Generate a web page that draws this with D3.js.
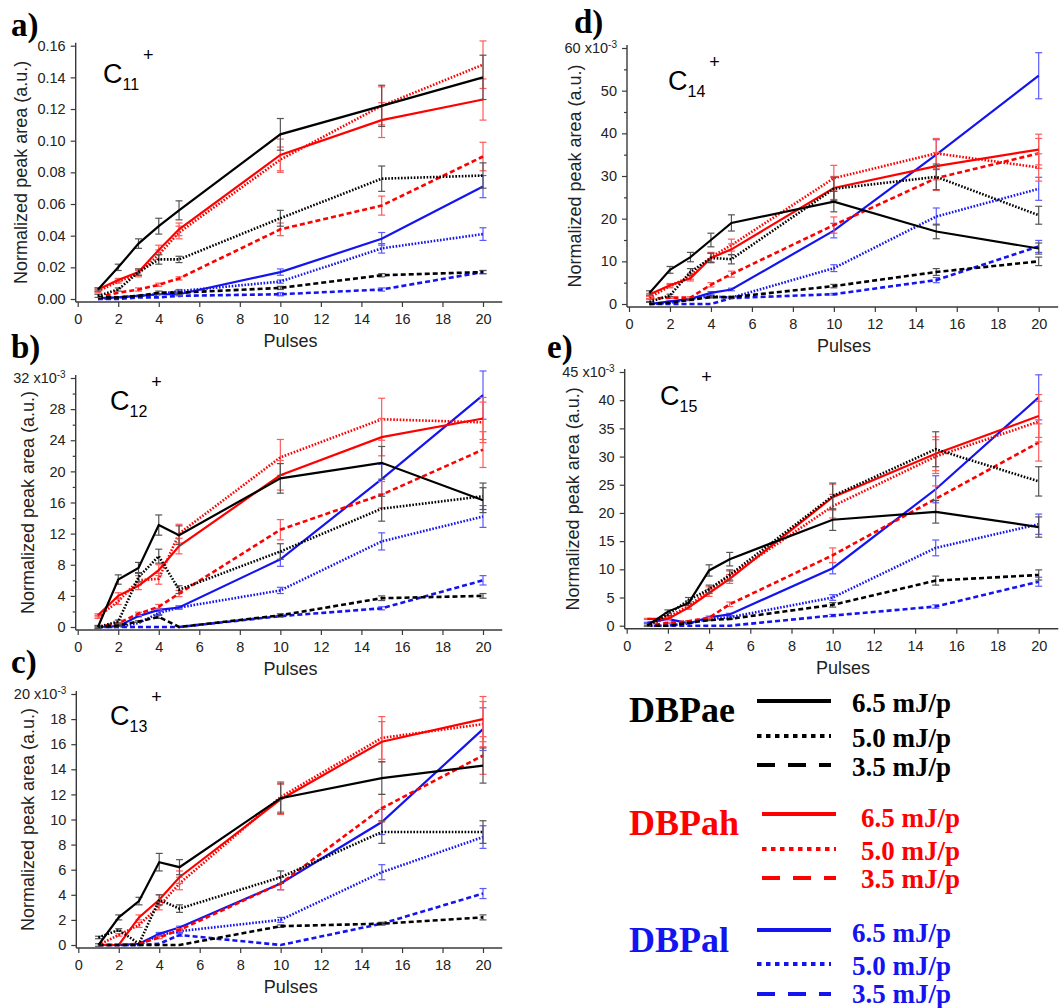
<!DOCTYPE html>
<html>
<head>
<meta charset="utf-8">
<script src="https://cdn.jsdelivr.net/npm/d3@7"></script>
<style>
body { margin: 0; background: #fff; }
</style>
</head>
<body>
<div id="chart"></div>
<script>
// x values shared by every series
var pulses = [1, 2, 3, 4, 5, 10, 15, 20];
var xTicks = [0, 2, 4, 6, 8, 10, 12, 14, 16, 18, 20];

// series order: DBPae 6.5/5.0/3.5, DBPah 6.5/5.0/3.5, DBPal 6.5/5.0/3.5
var seriesNames = ["ae65", "ae50", "ae35", "ah65", "ah50", "ah35", "al65", "al50", "al35"];

var c11Values = [
    [0.006, 0.020, 0.035, 0.046, 0.056, 0.104, 0.122, 0.140],
    [0.002, 0.006, 0.017, 0.025, 0.025, 0.051, 0.076, 0.078],
    [0.001, 0.001, 0.002, 0.004, 0.004, 0.007, 0.015, 0.017],
    [0.006, 0.012, 0.017, 0.031, 0.044, 0.091, 0.113, 0.126],
    [0.005, 0.011, 0.016, 0.028, 0.042, 0.088, 0.122, 0.148],
    [0.001, 0.004, 0.006, 0.009, 0.013, 0.044, 0.059, 0.090],
    [0.0005, 0.001, 0.002, 0.003, 0.003, 0.017, 0.038, 0.071],
    [0.000, 0.001, 0.002, 0.003, 0.005, 0.011, 0.032, 0.041],
    [0.000, 0.000, 0.001, 0.001, 0.002, 0.003, 0.006, 0.017]
];
var c11Errors = [
    [0.001, 0.002, 0.003, 0.005, 0.006, 0.010, 0.013, 0.014],
    [0.001, 0.001, 0.002, 0.003, 0.002, 0.005, 0.008, 0.008],
    [0, 0, 0, 0.001, 0.001, 0.001, 0.001, 0.001],
    [0.001, 0.001, 0.002, 0.003, 0.004, 0.010, 0.011, 0.013],
    [0.001, 0.001, 0.002, 0.003, 0.004, 0.008, 0.012, 0.015],
    [0, 0, 0.001, 0.001, 0.001, 0.004, 0.006, 0.009],
    [0, 0, 0, 0, 0.001, 0.002, 0.004, 0.007],
    [0, 0, 0, 0, 0.001, 0.001, 0.003, 0.004],
    [0, 0, 0, 0, 0, 0.001, 0.001, 0.001]
];

var c12Values = [
    [0, 6.1, 7.6, 13.1, 11.8, 19.1, 21.1, 16.3],
    [0, 0.7, 6.4, 9.1, 4.8, 9.7, 15.2, 16.8],
    [0, 0.2, 0.7, 1.3, 0, 1.5, 3.7, 4.0],
    [1.5, 4.0, 5.3, 7.3, 10.4, 19.5, 24.4, 26.8],
    [1.3, 3.3, 6.0, 6.2, 12.0, 21.8, 26.7, 26.3],
    [0, 0.5, 1.7, 2.6, 4.3, 12.5, 17.0, 22.8],
    [0, 0.1, 1.4, 2.2, 2.5, 8.7, 19.0, 29.8],
    [0, 0, 0.5, 1.8, 2.5, 4.7, 11.0, 14.2],
    [0, 0, 0, 0, 0, 1.4, 2.4, 6.0]
];
var c12Errors = [
    [0.2, 0.6, 0.7, 1.3, 1.2, 1.9, 2.1, 1.6],
    [0.1, 0.2, 0.6, 0.9, 0.5, 1.0, 1.6, 1.7],
    [0, 0.1, 0.1, 0.2, 0, 0.2, 0.3, 0.3],
    [0.2, 0.4, 0.5, 0.7, 1.0, 1.9, 2.4, 2.7],
    [0.2, 0.4, 0.6, 0.7, 1.2, 2.3, 2.7, 2.6],
    [0, 0.1, 0.2, 0.3, 0.4, 1.3, 1.7, 2.3],
    [0, 0, 0.1, 0.2, 0.2, 0.9, 1.9, 3.1],
    [0, 0, 0, 0.2, 0.2, 0.4, 1.1, 1.4],
    [0, 0, 0, 0, 0, 0.1, 0.2, 0.6]
];

var c13Values = [
    [0, 2.2, 3.5, 6.6, 6.2, 11.7, 13.3, 14.3],
    [0.6, 1.2, 0.1, 3.6, 2.9, 5.4, 9.0, 9.0],
    [0, 0, 0, 0, 0, 1.5, 1.7, 2.2],
    [0, 0, 2.2, 3.6, 5.4, 11.6, 16.2, 18.0],
    [0, 0.8, 1.6, 3.1, 4.9, 11.8, 16.5, 17.6],
    [0, 0, 0.1, 0.6, 1.2, 4.9, 10.9, 15.1],
    [0, 0, 0.1, 0.9, 1.4, 4.9, 9.8, 17.2],
    [0, 0, 0, 0.8, 1.1, 2.0, 5.8, 8.6],
    [0, 0, 0, 0.1, 0.8, 0, 1.7, 4.1]
];
var c13Errors = [
    [0.1, 0.2, 0.3, 0.7, 0.6, 1.2, 1.3, 1.4],
    [0.1, 0.1, 0, 0.4, 0.3, 0.5, 0.9, 0.9],
    [0, 0, 0, 0, 0, 0.1, 0.1, 0.2],
    [0, 0, 0.2, 0.4, 0.5, 1.2, 1.6, 1.8],
    [0, 0.1, 0.2, 0.3, 0.5, 1.2, 1.7, 1.8],
    [0, 0, 0, 0.1, 0.1, 0.5, 1.1, 1.5],
    [0, 0, 0, 0.1, 0.1, 0.5, 1.0, 1.7],
    [0, 0, 0, 0.1, 0.1, 0.2, 0.6, 0.9],
    [0, 0, 0, 0, 0.1, 0, 0.1, 0.4]
];

var c14Values = [
    [2.6, 8.0, 11.0, 15.0, 19.0, 24.0, 17.0, 13.0],
    [0.5, 2.0, 7.5, 10.8, 10.5, 27.0, 29.8, 20.8],
    [0, 0.3, 1.0, 1.6, 1.6, 4.2, 7.5, 10.0],
    [2.2, 4.4, 6.0, 10.8, 12.8, 27.2, 32.3, 36.2],
    [1.5, 4.2, 6.5, 11.0, 13.8, 29.5, 35.3, 32.0],
    [1.2, 1.5, 1.5, 4.5, 7.0, 18.5, 29.5, 35.3],
    [0, 0.6, 1.2, 2.6, 3.4, 17.2, 35.0, 53.5],
    [0, 0.3, 1.2, 1.8, 1.5, 8.4, 20.5, 27.0],
    [0, 0, 0, 0, 1.4, 2.3, 5.6, 13.5]
];
var c14Errors = [
    [0.5, 0.8, 1.1, 1.6, 1.9, 2.4, 1.7, 1.3],
    [0.1, 0.3, 0.8, 1.1, 1.1, 2.7, 3.0, 2.1],
    [0, 0, 0.2, 0.2, 0.2, 0.4, 0.8, 1.0],
    [0.3, 0.4, 0.6, 1.1, 1.3, 2.7, 3.2, 3.6],
    [0.3, 0.4, 0.7, 1.1, 1.4, 3.0, 3.5, 3.2],
    [0.1, 0.2, 0.2, 0.5, 0.7, 1.9, 2.9, 3.5],
    [0, 0.1, 0.1, 0.3, 0.3, 1.7, 3.5, 5.4],
    [0, 0, 0.1, 0.2, 0.2, 0.8, 2.0, 2.7],
    [0, 0, 0, 0, 0.1, 0.2, 0.6, 1.4]
];

var c15Values = [
    [0, 2.5, 4.0, 9.8, 11.8, 18.8, 20.2, 17.5],
    [0, 2.0, 4.5, 6.5, 9.0, 23.0, 31.3, 25.6],
    [0, 0, 0.5, 1.0, 1.2, 3.7, 8.0, 9.0],
    [1.2, 1.2, 3.2, 5.8, 8.3, 22.8, 30.5, 37.2],
    [0, 1.5, 3.5, 6.3, 8.8, 21.2, 30.0, 36.2],
    [0, 0.5, 0.8, 1.4, 3.8, 12.5, 22.5, 32.5],
    [0.5, 1.2, 0.4, 1.5, 2.0, 10.2, 24.2, 40.5],
    [0, 0, 0.4, 1.2, 1.5, 5.0, 13.8, 18.0],
    [0, 0, 0, 0, 0, 1.8, 3.4, 7.8]
];
var c15Errors = [
    [0.1, 0.3, 0.4, 1.0, 1.2, 1.9, 2.0, 1.8],
    [0, 0.2, 0.5, 0.7, 0.9, 2.3, 3.1, 2.6],
    [0, 0, 0.1, 0.1, 0.1, 0.4, 0.8, 0.9],
    [0.1, 0.1, 0.3, 0.6, 0.8, 2.3, 3.0, 3.8],
    [0, 0.2, 0.4, 0.6, 0.9, 2.1, 3.0, 3.6],
    [0, 0.1, 0.1, 0.1, 0.4, 1.3, 2.3, 3.3],
    [0.1, 0.1, 0, 0.2, 0.2, 1.0, 2.4, 4.0],
    [0, 0, 0, 0.1, 0.2, 0.5, 1.4, 1.8],
    [0, 0, 0, 0, 0, 0.2, 0.3, 0.8]
];

var legendGroups = ["DBPae", "DBPah", "DBPal"];
var legendEnergies = ["6.5 mJ/p", "5.0 mJ/p", "3.5 mJ/p"];

var colors = ["#000000", "#ff0000", "#1414f0"];
var errColors = ["#555555", "#ff5a5a", "#5a5aff"];
var dashes = [null, "1.6,1.6", "5,3"];

var sansFont = "'Liberation Sans', Arial, sans-serif";
var serifFont = "'Liberation Serif', 'Times New Roman', serif";

var panels = [
    {letter: "a)", ion: "11", values: c11Values, errors: c11Errors, ymax: 0.16, step: 0.02, minor: false, fmt: ".2f", exp: false,
     x0: 77.7, x20: 483, y0: 299, ytop: 45.7, titleX: 21, letterX: 11, letterY: 36, ionX: 103, ionY: 83},
    {letter: "b)", ion: "12", values: c12Values, errors: c12Errors, ymax: 32, step: 4, minor: true, fmt: "d", exp: true,
     x0: 77.7, x20: 483, y0: 627, ytop: 378, titleX: 28, letterX: 11, letterY: 358, ionX: 110, ionY: 410},
    {letter: "c)", ion: "13", values: c13Values, errors: c13Errors, ymax: 20, step: 2, minor: false, fmt: "d", exp: true,
     x0: 78.3, x20: 483, y0: 945, ytop: 694, titleX: 28, letterX: 11, letterY: 673, ionX: 110, ionY: 725},
    {letter: "d)", ion: "14", values: c14Values, errors: c14Errors, ymax: 60, step: 10, minor: true, fmt: "d", exp: true,
     x0: 629, x20: 1038.7, y0: 304, ytop: 48, titleX: 575, letterX: 574, letterY: 33, ionX: 668, ionY: 90},
    {letter: "e)", ion: "15", values: c15Values, errors: c15Errors, ymax: 45, step: 5, minor: false, fmt: "d", exp: true,
     x0: 626.7, x20: 1038.7, y0: 625.7, ytop: 372, titleX: 573, letterX: 547, letterY: 358, ionX: 660, ionY: 405}
];

var svg = d3.select("#chart")
    .append("svg")
    .attr("width", 1063)
    .attr("height", 1008)
    .style("font-family", sansFont);

panels.forEach(function (p) {
    var x = d3.scaleLinear().domain([0, 20]).range([p.x0, p.x20]);
    var y = d3.scaleLinear().domain([0, p.ymax]).range([p.y0, p.ytop]);
    var g = svg.append("g");
    var axisColor = "#3a3a3a";
    var axisX = p.x0 - 2,
        axisY = p.y0 + 3;

    // x axis
    var gx = g.append("g")
        .attr("transform", "translate(0," + axisY + ")")
        .call(d3.axisBottom(x).tickValues(xTicks).tickSize(5).tickPadding(7).tickFormat(d3.format("d")));
    gx.select(".domain").remove();
    g.append("line")
        .attr("x1", axisX).attr("x2", x(20.95))
        .attr("y1", axisY).attr("y2", axisY)
        .attr("stroke", axisColor).attr("stroke-width", 1.4);

    // y axis
    var majors = d3.range(0, p.ymax + p.step / 2, p.step);
    var gy = g.append("g")
        .attr("transform", "translate(" + axisX + ",0)")
        .call(d3.axisLeft(y).tickValues(majors).tickSize(5).tickPadding(5).tickFormat(d3.format(p.fmt)));
    gy.select(".domain").remove();
    if (p.minor) {
        var minors = d3.range(p.step / 2, p.ymax, p.step);
        var gm = g.append("g")
            .attr("transform", "translate(" + axisX + ",0)")
            .call(d3.axisLeft(y).tickValues(minors).tickSize(3).tickFormat(""));
        gm.select(".domain").remove();
        gm.selectAll("line").attr("stroke", axisColor).attr("stroke-width", 1.2);
    }
    g.append("line")
        .attr("x1", axisX).attr("x2", axisX)
        .attr("y1", axisY).attr("y2", p.ytop - 3)
        .attr("stroke", axisColor).attr("stroke-width", 1.4);

    [gx, gy].forEach(function (ax) {
        ax.selectAll(".tick line").attr("stroke", axisColor).attr("stroke-width", 1.2);
        ax.selectAll(".tick text")
            .attr("fill", "#222")
            .style("font-family", sansFont)
            .style("font-size", "14.5px");
    });

    // top label with the exponent
    if (p.exp) {
        gy.selectAll(".tick text")
            .filter(function (d) { return Math.abs(d - p.ymax) < 1e-9; })
            .each(function (d) {
                var t = d3.select(this).text("");
                t.append("tspan").text(d + " x10");
                t.append("tspan").attr("dy", "-0.55em").style("font-size", "10px").text("-3");
            });
    }

    // axis titles
    g.append("text")
        .attr("transform", "translate(" + p.titleX + "," + ((axisY + p.ytop - 3) / 2) + ") rotate(-90)")
        .attr("text-anchor", "middle")
        .attr("dominant-baseline", "central")
        .attr("fill", "#222")
        .style("font-size", "18px")
        .text("Normalized peak area (a.u.)");
    g.append("text")
        .attr("x", (p.x0 + x(21)) / 2)
        .attr("y", p.y0 + 48)
        .attr("text-anchor", "middle")
        .attr("fill", "#222")
        .style("font-size", "18px")
        .text("Pulses");

    // panel letter
    g.append("text")
        .attr("x", p.letterX)
        .attr("y", p.letterY)
        .attr("fill", "#000")
        .style("font-family", serifFont)
        .style("font-weight", "bold")
        .style("font-size", "33px")
        .text(p.letter);

    // ion label
    var ion = g.append("text")
        .attr("x", p.ionX)
        .attr("y", p.ionY)
        .attr("fill", "#000")
        .style("font-size", "27px");
    ion.append("tspan").text("C");
    ion.append("tspan").attr("dy", 7).style("font-size", "16px").text(p.ion);
    ion.append("tspan").attr("dy", -29).attr("dx", 4).style("font-size", "18px").text("+");

    // series, drawn back to front so solid black ends on top
    var line = d3.line()
        .x(function (d) { return x(d.x); })
        .y(function (d) { return y(d.v); });

    d3.range(seriesNames.length).reverse().forEach(function (i) {
        var col = Math.floor(i / 3),
            sty = i % 3;
        var pts = pulses.map(function (px, k) {
            return {x: px, v: p.values[i][k], e: p.errors[i][k]};
        });

        var eb = g.append("g")
            .attr("stroke", errColors[col])
            .attr("stroke-width", 1.2);
        pts.filter(function (d) { return d.e > 0; }).forEach(function (d) {
            var cx = x(d.x),
                yl = y(d.v - d.e),
                yh = y(d.v + d.e);
            eb.append("line").attr("x1", cx).attr("x2", cx).attr("y1", yl).attr("y2", yh);
            eb.append("line").attr("x1", cx - 3.5).attr("x2", cx + 3.5).attr("y1", yl).attr("y2", yl);
            eb.append("line").attr("x1", cx - 3.5).attr("x2", cx + 3.5).attr("y1", yh).attr("y2", yh);
        });

        g.append("path")
            .datum(pts)
            .attr("fill", "none")
            .attr("stroke", colors[col])
            .attr("stroke-width", sty == 0 ? 2.2 : 2.6)
            .attr("stroke-dasharray", dashes[sty])
            .attr("d", line);
    });
});

// legend
var legendLayout = [
    {nameY: 722, lineX: 757, lineYs: [701, 736, 765], textX: 852, textYs: [712, 747, 776]},
    {nameY: 835, lineX: 762, lineYs: [814, 849, 878], textX: 861, textYs: [827, 860, 888]},
    {nameY: 952, lineX: 757, lineYs: [930, 964, 994], textX: 852, textYs: [942, 975, 1003]}
];
var legendDashes = [null, "4.5,4.5", "18,13"];

legendGroups.forEach(function (name, gi) {
    var L = legendLayout[gi];
    var lg = svg.append("g")
        .style("font-family", serifFont)
        .style("font-weight", "bold")
        .attr("fill", colors[gi]);
    lg.append("text")
        .attr("x", 629)
        .attr("y", L.nameY)
        .style("font-size", "36px")
        .text(name);
    legendEnergies.forEach(function (lab, k) {
        lg.append("line")
            .attr("x1", L.lineX).attr("x2", L.lineX + 74)
            .attr("y1", L.lineYs[k]).attr("y2", L.lineYs[k])
            .attr("stroke", colors[gi])
            .attr("stroke-width", 4)
            .attr("stroke-dasharray", legendDashes[k]);
        lg.append("text")
            .attr("x", L.textX)
            .attr("y", L.textYs[k])
            .style("font-size", "27px")
            .text(lab);
    });
});
</script>
</body>
</html>
